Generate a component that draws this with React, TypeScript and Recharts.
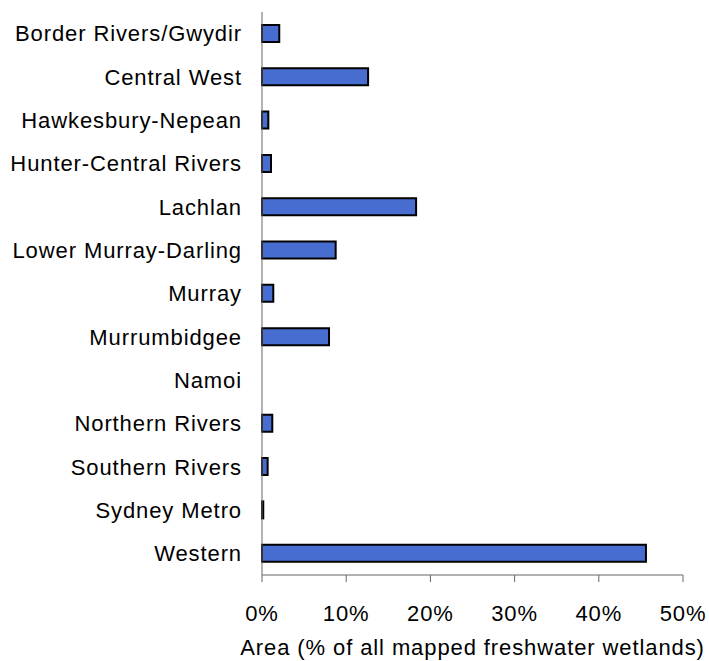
import { BarChart, Bar, XAxis, YAxis } from "recharts";

const regions = [
  "Border Rivers/Gwydir",
  "Central West",
  "Hawkesbury-Nepean",
  "Hunter-Central Rivers",
  "Lachlan",
  "Lower Murray-Darling",
  "Murray",
  "Murrumbidgee",
  "Namoi",
  "Northern Rivers",
  "Southern Rivers",
  "Sydney Metro",
  "Western",
];

const areaPct = [2.05, 12.6, 0.75, 1.07, 18.3, 8.75, 1.34, 7.96, 0, 1.22, 0.67, 0.15, 45.6];

const xTicks = [0, 10, 20, 30, 40, 50];

const data = regions.map((name, i) => ({ name, area: areaPct[i] }));

const font = '"Liberation Sans", Arial, sans-serif';
const textStyle = { fill: "#000", fontSize: 22, fontFamily: font, letterSpacing: 0.9 };

export default function App() {
  return (
    <div style={{ position: "fixed", top: 0, left: 0, width: 709, height: 661, background: "#fff" }}>
      <BarChart
        width={709}
        height={661}
        data={data}
        layout="vertical"
        margin={{ top: 12, right: 26, bottom: 0, left: 0 }}
        barSize={17}
      >
        <XAxis
          type="number"
          domain={[0, 50]}
          ticks={xTicks}
          tickFormatter={(v) => `${v}%`}
          height={86}
          tickSize={7}
          tickMargin={23}
          stroke="#666"
          tick={textStyle}
          label={{
            value: "Area (% of all mapped freshwater wetlands)",
            position: "insideBottom",
            offset: 6,
            ...textStyle,
          }}
        />
        <YAxis
          type="category"
          dataKey="name"
          width={262}
          tickLine={false}
          tickSize={0}
          tickMargin={20}
          stroke="#666"
          interval={0}
          tick={textStyle}
        />
        <Bar
          dataKey="area"
          fill="#466dcf"
          stroke="#000"
          strokeWidth={2}
          isAnimationActive={false}
        />
      </BarChart>
    </div>
  );
}
